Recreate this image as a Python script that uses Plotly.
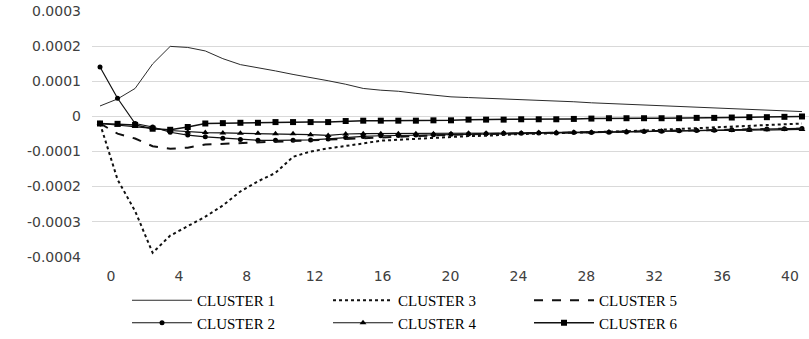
import plotly.graph_objects as go

# Horizon (periods after the shock)
periods = list(range(41))

cluster_1 = [0.000030, 0.000050, 0.000080, 0.000150, 0.000200, 0.000197, 0.000187, 0.000165,
             0.000148, 0.000140, 0.000130, 0.000120, 0.000112, 0.000102, 0.000092, 0.000080,
             0.000075, 0.000072, 0.000066, 0.000060, 0.000056, 0.000054, 0.000052, 0.000051,
             0.000050, 0.000048, 0.000045, 0.000042, 0.000039, 0.000037, 0.000035, 0.000033,
             0.000030, 0.000028, 0.000026, 0.000024, 0.000022, 0.000020, 0.000018, 0.000016,
             0.000014]
cluster_2 = [0.000141, 0.000052, -0.000020, -0.000030, -0.000045, -0.000053, -0.000058, -0.000062,
             -0.000066, -0.000068, -0.000068, -0.000068, -0.000067, -0.000064, -0.000060, -0.000057,
             -0.000055, -0.000054, -0.000053, -0.000052, -0.000051, -0.000050, -0.000049, -0.000048,
             -0.000048, -0.000047, -0.000047, -0.000046, -0.000046, -0.000045, -0.000044, -0.000043,
             -0.000042, -0.000041, -0.000040, -0.000039, -0.000038, -0.000037, -0.000036, -0.000035,
             -0.000034]
cluster_3 = [-0.000020, -0.000180, -0.000270, -0.000389, -0.000340, -0.000314, -0.000286, -0.000254,
             -0.000214, -0.000185, -0.000161, -0.000115, -0.000100, -0.000091, -0.000085, -0.000077,
             -0.000069, -0.000066, -0.000064, -0.000062, -0.000057, -0.000056, -0.000055, -0.000052,
             -0.000050, -0.000049, -0.000048, -0.000046, -0.000045, -0.000044, -0.000042, -0.000040,
             -0.000038, -0.000035, -0.000033, -0.000030, -0.000028, -0.000026, -0.000024, -0.000022,
             -0.000020]
cluster_4 = [-0.000020, -0.000024, -0.000028, -0.000034, -0.000040, -0.000044, -0.000046, -0.000047,
             -0.000048, -0.000048, -0.000049, -0.000049, -0.000052, -0.000054, -0.000050, -0.000049,
             -0.000049, -0.000049, -0.000049, -0.000049, -0.000049, -0.000048, -0.000048, -0.000047,
             -0.000047, -0.000046, -0.000046, -0.000045, -0.000045, -0.000044, -0.000043, -0.000042,
             -0.000042, -0.000041, -0.000040, -0.000040, -0.000040, -0.000039, -0.000038, -0.000037,
             -0.000037]
cluster_5 = [-0.000020, -0.000049, -0.000063, -0.000085, -0.000092, -0.000089, -0.000080, -0.000078,
             -0.000076, -0.000073, -0.000070, -0.000069, -0.000068, -0.000066, -0.000062, -0.000060,
             -0.000058, -0.000057, -0.000055, -0.000054, -0.000052, -0.000051, -0.000050, -0.000049,
             -0.000048, -0.000047, -0.000046, -0.000046, -0.000045, -0.000044, -0.000043, -0.000042,
             -0.000041, -0.000040, -0.000039, -0.000039, -0.000038, -0.000037, -0.000036, -0.000035,
             -0.000035]
cluster_6 = [-0.000020, -0.000021, -0.000024, -0.000035, -0.000038, -0.000030, -0.000020, -0.000019,
             -0.000018, -0.000018, -0.000016, -0.000016, -0.000016, -0.000016, -0.000013, -0.000012,
             -0.000012, -0.000012, -0.000012, -0.000011, -0.000011, -0.000009, -0.000009, -0.000009,
             -0.000008, -0.000008, -0.000008, -0.000007, -0.000006, -0.000005, -0.000005, -0.000005,
             -0.000005, -0.000005, -0.000004, -0.000004, -0.000003, -0.000002, -0.000002, -0.000001,
             0.000000]

x_ticks = list(range(0, 41, 4))
y_ticks = [-0.0004, -0.0003, -0.0002, -0.0001, 0, 0.0001, 0.0002, 0.0003]
y_tick_text = ["-0.0004", "-0.0003", "-0.0002", "-0.0001", "0", "0.0001", "0.0002", "0.0003"]

series = [
    ("CLUSTER 1", cluster_1, dict(color="#2b2b2b", width=1, dash="solid"), None, 1),
    ("CLUSTER 2", cluster_2, dict(color="#111111", width=1.2, dash="solid"), dict(symbol="circle", size=5), 4),
    ("CLUSTER 3", cluster_3, dict(color="#111111", width=2, dash="dot"), None, 2),
    ("CLUSTER 4", cluster_4, dict(color="#111111", width=1.2, dash="solid"), dict(symbol="triangle-up", size=6), 5),
    ("CLUSTER 5", cluster_5, dict(color="#111111", width=2, dash="dash"), None, 3),
    ("CLUSTER 6", cluster_6, dict(color="#111111", width=1.5, dash="solid"), dict(symbol="square", size=6), 6),
]

fig = go.Figure()
for name, values, line, marker, rank in series:
    mode = "lines+markers" if marker else "lines"
    trace = dict(x=periods, y=values, name=name, mode=mode, line=line, legendrank=rank)
    if marker:
        trace["marker"] = dict(color="#000000", **marker)
    fig.add_trace(go.Scatter(**trace))

# Invisible carrier for the period labels along the bottom
fig.add_trace(go.Scatter(x=[0, 40], y=[None, None], xaxis="x2", showlegend=False,
                         hoverinfo="skip", mode="markers"))

tick_font = dict(family="DejaVu Sans", size=14, color="#404040")

fig.update_layout(
    width=809, height=339,
    margin=dict(l=92, r=0, t=11, b=75),
    plot_bgcolor="white", paper_bgcolor="white",
    xaxis=dict(range=[-0.456, 40.4], showgrid=False, zeroline=False, showticklabels=False,
               showline=False),
    xaxis2=dict(range=[-1.12, 41.12], overlaying="x", anchor="y", side="bottom",
                tickmode="array", tickvals=x_ticks, ticktext=[str(v) for v in x_ticks],
                showgrid=False, zeroline=False, showline=False, tickfont=tick_font,
                ticklabelstandoff=9),
    yaxis=dict(range=[-0.000401, 0.000301], tickmode="array", tickvals=y_ticks,
               ticktext=y_tick_text, showgrid=True, gridcolor="#d9d9d9", gridwidth=1,
               zeroline=False, showline=False, tickfont=tick_font, ticklabelstandoff=10),
    legend=dict(orientation="h", xref="container", yref="container", x=0.157, y=0.0,
                xanchor="left", yanchor="bottom", itemwidth=60, entrywidth=126,
                entrywidthmode="pixels", traceorder="normal",
                font=dict(family="Liberation Serif", size=15, color="#000000"),
                bgcolor="rgba(0,0,0,0)", tracegroupgap=0),
    showlegend=True,
)

fig.write_html("out.html")
